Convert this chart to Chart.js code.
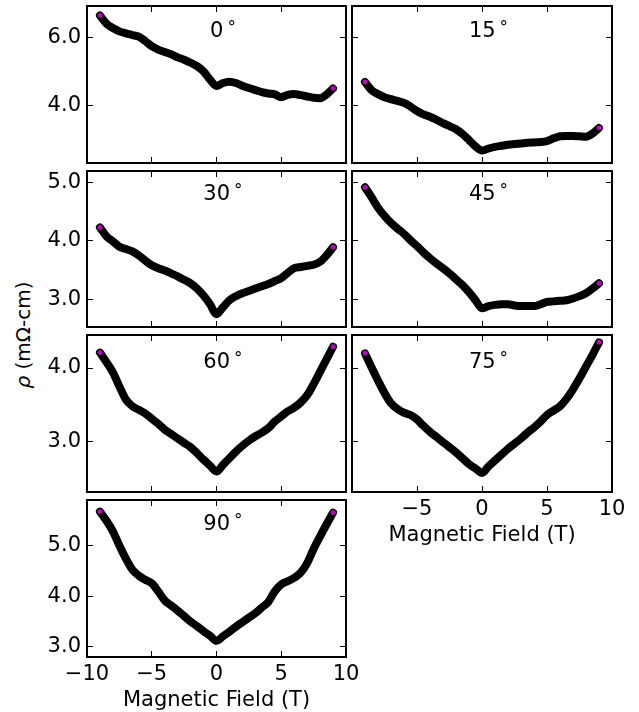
<!DOCTYPE html>
<html>
<head>
<meta charset="utf-8">
<script src="https://cdn.jsdelivr.net/npm/chart.js@4.4.1/dist/chart.umd.min.js"></script>
<style>
  html, body { margin: 0; padding: 0; background: #fff; }
  #figure { position: relative; width: 639px; height: 712px; overflow: hidden; }
  #figure canvas { position: absolute; left: 0; top: 0; }
  #ylabel {
    position: absolute; left: 23px; top: 335px;
    transform: translate(-50%, -50%) rotate(-90deg);
    font: 20px "DejaVu Sans"; line-height: 1; white-space: nowrap; color: #000;
  }
</style>
</head>
<body>
<div id="figure">
  <div id="ylabel"><i>ρ</i> (mΩ-cm)</div>
</div>
<script>
// field sweep (T), same for every angle
const field = [-9, -8.5, -8, -7.5, -7, -6.5, -6, -5.5, -5, -4.5, -4, -3.5, -3, -2.5, -2, -1.5, -1, -0.5,
               0, 0.5, 1, 1.5, 2, 2.5, 3, 3.5, 4, 4.5, 5, 5.5, 6, 6.5, 7, 7.5, 8, 8.5, 9];

// resistivity (mOhm-cm) per tilt angle
const rho0  = [6.66, 6.42, 6.29, 6.19, 6.13, 6.08, 6.03, 5.90, 5.75, 5.65, 5.58, 5.51, 5.42, 5.35, 5.26, 5.16, 5.00, 4.76,
               4.57, 4.66, 4.70, 4.66, 4.58, 4.51, 4.45, 4.39, 4.35, 4.32, 4.24, 4.31, 4.33, 4.30, 4.26, 4.22, 4.21, 4.32, 4.50];
const rho15 = [4.69, 4.45, 4.33, 4.24, 4.18, 4.13, 4.07, 3.96, 3.83, 3.73, 3.66, 3.57, 3.47, 3.38, 3.29, 3.15, 2.97, 2.78,
               2.66, 2.72, 2.77, 2.80, 2.83, 2.85, 2.87, 2.89, 2.90, 2.91, 2.94, 3.02, 3.08, 3.09, 3.09, 3.08, 3.07, 3.16, 3.33];
const rho30 = [4.23, 4.08, 3.99, 3.90, 3.86, 3.82, 3.75, 3.66, 3.58, 3.53, 3.49, 3.44, 3.39, 3.33, 3.27, 3.18, 3.06, 2.91,
               2.74, 2.86, 2.98, 3.05, 3.10, 3.14, 3.18, 3.22, 3.26, 3.31, 3.36, 3.45, 3.53, 3.55, 3.57, 3.59, 3.64, 3.75, 3.89];
const rho45 = [4.92, 4.75, 4.57, 4.43, 4.31, 4.21, 4.12, 4.01, 3.91, 3.80, 3.70, 3.61, 3.53, 3.44, 3.34, 3.24, 3.12, 2.98,
               2.84, 2.88, 2.90, 2.91, 2.91, 2.89, 2.88, 2.88, 2.88, 2.91, 2.95, 2.96, 2.97, 2.98, 3.01, 3.05, 3.10, 3.18, 3.27];
const rho60 = [4.21, 4.08, 3.94, 3.75, 3.57, 3.48, 3.43, 3.38, 3.31, 3.24, 3.16, 3.10, 3.04, 2.98, 2.92, 2.84, 2.75, 2.67,
               2.59, 2.68, 2.77, 2.86, 2.94, 3.01, 3.07, 3.12, 3.18, 3.27, 3.34, 3.41, 3.46, 3.53, 3.63, 3.78, 3.95, 4.12, 4.29];
const rho75 = [4.20, 4.01, 3.83, 3.66, 3.52, 3.44, 3.39, 3.36, 3.30, 3.21, 3.13, 3.06, 2.99, 2.92, 2.85, 2.77, 2.69, 2.63,
               2.57, 2.66, 2.74, 2.82, 2.90, 2.97, 3.04, 3.12, 3.19, 3.27, 3.36, 3.42, 3.48, 3.58, 3.71, 3.86, 4.02, 4.18, 4.35];
const rho90 = [5.68, 5.50, 5.29, 5.01, 4.75, 4.53, 4.41, 4.33, 4.26, 4.10, 3.92, 3.82, 3.72, 3.61, 3.50, 3.41, 3.31, 3.22,
               3.12, 3.21, 3.30, 3.40, 3.49, 3.58, 3.67, 3.78, 3.89, 4.10, 4.24, 4.30, 4.37, 4.47, 4.66, 4.94, 5.19, 5.43, 5.66];

const xTicks = [-10, -5, 0, 5, 10];
const yTicksRow = [[4, 6], [3, 4, 5], [3, 4], [3, 4, 5]];
const yLimitsRow = [[2.29, 6.94], [2.52, 5.2], [2.31, 4.45], [2.8, 5.91]];

// subplot grid, in page pixels
const W = 639, H = 712;
const cols = [{left: 87, right: 346}, {left: 352, right: 612}];
const rows = [{top: 6, bottom: 163}, {top: 171, bottom: 327}, {top: 335, bottom: 492}, {top: 500, bottom: 657}];
const Y_AXIS_W = 60, X_AXIS_H = 56;

const panels = [
  {angle: '0',  rho: rho0,  row: 0, col: 0, labelY: 24},
  {angle: '15', rho: rho15, row: 0, col: 1, labelY: 24},
  {angle: '30', rho: rho30, row: 1, col: 0, labelY: 22},
  {angle: '45', rho: rho45, row: 1, col: 1, labelY: 22},
  {angle: '60', rho: rho60, row: 2, col: 0, labelY: 26},
  {angle: '75', rho: rho75, row: 2, col: 1, labelY: 26, xLabels: true},
  {angle: '90', rho: rho90, row: 3, col: 0, labelY: 23, xLabels: true},
];

const font = {family: '"DejaVu Sans"', size: 21};
const minus = v => v < 0 ? '\u2212' + Math.abs(v) : String(v);

// angle tag ("0°") near the top of each panel
const angleLabel = {
  id: 'angleLabel',
  afterDatasetsDraw(chart, args, opts) {
    const {ctx, chartArea, scales} = chart;
    const cx = scales.x.getPixelForValue(0.5);
    const baseY = chartArea.top + opts.offset + 7;
    ctx.save();
    ctx.fillStyle = '#000';
    ctx.textBaseline = 'alphabetic';
    ctx.font = '21px "DejaVu Sans"';
    const w = ctx.measureText(opts.text).width;
    ctx.font = '17px "DejaVu Sans"';
    const rw = ctx.measureText('°').width;
    const x0 = cx - (w + 4 + rw) / 2;
    ctx.font = '21px "DejaVu Sans"';
    ctx.fillText(opts.text, x0, baseY);
    ctx.font = '17px "DejaVu Sans"';
    ctx.fillText('°', x0 + w + 4, baseY - 4);
    ctx.restore();
  }
};

const zeroPad = a => { a.paddingLeft = 0; a.paddingRight = 0; a.paddingTop = 0; a.paddingBottom = 0; };
const setTicks = vals => a => { a.ticks = vals.map(v => ({value: v})); };

function makeScales(p) {
  const tickMarks = {drawOnChartArea: false, drawTicks: true, tickLength: -6, color: '#000', lineWidth: 1};
  const frame = {display: true, color: '#000', width: 2};
  const [ymin, ymax] = yLimitsRow[p.row];
  const yTicks = yTicksRow[p.row];
  const showY = p.col === 0;
  return {
    x: {
      type: 'linear', position: 'bottom', min: -10, max: 10,
      afterBuildTicks: setTicks(xTicks),
      afterFit: a => { a.height = p.xLabels ? X_AXIS_H : 0; zeroPad(a); },
      grid: tickMarks, border: frame,
      ticks: {
        display: !!p.xLabels, padding: 11, maxRotation: 0, autoSkip: false, color: '#000', font,
        callback: v => (p.col === 1 && v === -10) ? '' : minus(v)
      },
      title: {display: !!p.xLabels, text: 'Magnetic Field (T)', color: '#000', font, padding: 0}
    },
    x2: {
      type: 'linear', position: 'top', min: -10, max: 10,
      afterBuildTicks: setTicks(xTicks),
      afterFit: a => { a.height = 0; zeroPad(a); },
      grid: tickMarks, border: frame,
      ticks: {display: false}
    },
    y: {
      type: 'linear', position: 'left', min: ymin, max: ymax,
      afterBuildTicks: setTicks(yTicks),
      afterFit: a => { a.width = showY ? Y_AXIS_W : 0; zeroPad(a); },
      grid: tickMarks, border: frame,
      ticks: {display: showY, padding: 12, color: '#000', font, callback: v => v.toFixed(1)}
    },
    y2: {
      type: 'linear', position: 'right', min: ymin, max: ymax,
      afterBuildTicks: setTicks(yTicks),
      afterFit: a => { a.width = 0; zeroPad(a); },
      grid: tickMarks, border: frame,
      ticks: {display: false}
    }
  };
}

const figure = document.getElementById('figure');
const last = field.length - 1;

panels.forEach(p => {
  const canvas = document.createElement('canvas');
  canvas.width = W;
  canvas.height = H;
  figure.appendChild(canvas);

  const col = cols[p.col], row = rows[p.row];
  new Chart(canvas, {
    type: 'line',
    data: {
      datasets: [{
        data: field.map((b, i) => ({x: b, y: p.rho[i]})),
        borderColor: '#000',
        borderWidth: 8,
        borderCapStyle: 'round',
        borderJoinStyle: 'round',
        cubicInterpolationMode: 'monotone',
        pointRadius: c => (c.dataIndex === 0 || c.dataIndex === last) ? 3 : 0,
        pointBackgroundColor: '#bf00bf',
        pointBorderColor: '#000',
        pointBorderWidth: 1,
        fill: false
      }]
    },
    options: {
      responsive: false,
      animation: false,
      devicePixelRatio: 1,
      events: [],
      layout: {
        padding: {
          left: col.left - (p.col === 0 ? Y_AXIS_W : 0),
          right: W - col.right,
          top: row.top,
          bottom: H - row.bottom - (p.xLabels ? X_AXIS_H : 0)
        }
      },
      scales: makeScales(p),
      plugins: {
        legend: {display: false},
        tooltip: {enabled: false},
        angleLabel: {text: p.angle, offset: p.labelY}
      }
    },
    plugins: [angleLabel]
  });
});
</script>
</body>
</html>
